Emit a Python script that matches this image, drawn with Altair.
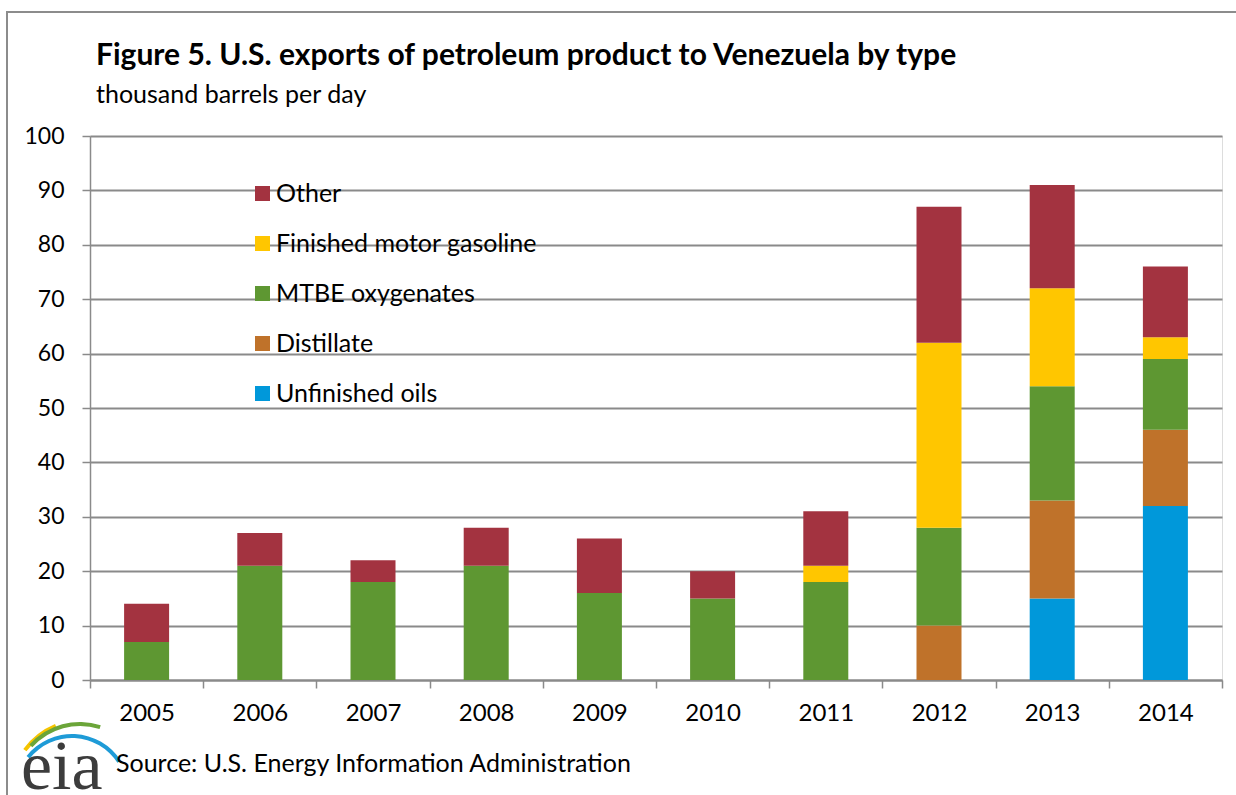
import altair as alt
import pandas as pd

years = ["2005", "2006", "2007", "2008", "2009", "2010", "2011", "2012", "2013", "2014"]
unfinished = [0, 0, 0, 0, 0, 0, 0, 0, 15, 32]
distillate = [0, 0, 0, 0, 0, 0, 0, 10, 18, 14]
mtbe = [7, 21, 18, 21, 16, 15, 18, 18, 21, 13]
gasoline = [0, 0, 0, 0, 0, 0, 3, 34, 18, 4]
other = [7, 6, 4, 7, 10, 5, 10, 25, 19, 13]

series_names = ["Unfinished oils", "Distillate", "MTBE oxygenates", "Finished motor gasoline", "Other"]
series_vals = [unfinished, distillate, mtbe, gasoline, other]
colors = ["#0098DA", "#BF722A", "#5E9732", "#FFC600", "#A33340"]

title_text = "Figure 5. U.S. exports of petroleum product to Venezuela by type"
subtitle_text = "thousand barrels per day"
source_text = "Source: U.S. Energy Information Administration"

rows = []
for k, (name, vals) in enumerate(zip(series_names, series_vals)):
    for y, v in zip(years, vals):
        rows.append({"year": y, "type": name, "value": v, "order": k})
df = pd.DataFrame(rows)

FONT = "Lato"
GRID = "#8A8A8A"

bars = alt.Chart(df).mark_bar(size=45).encode(
    x=alt.X("year:N", title=None, sort=years,
            scale=alt.Scale(paddingInner=0, paddingOuter=0),
            axis=alt.Axis(labelAngle=0, tickBand="extent", tickSize=8, tickColor=GRID,
                          tickWidth=1.5, domainColor=GRID, domainWidth=2,
                          labelFontSize=24, labelFont=FONT, labelColor="#000000",
                          labelPadding=13, grid=False)),
    y=alt.Y("value:Q", title=None, stack="zero",
            scale=alt.Scale(domain=[0, 100], nice=False),
            axis=alt.Axis(values=list(range(0, 101, 10)), tickSize=8, tickColor=GRID,
                          tickWidth=1.5, domainColor=GRID, domainWidth=1.5,
                          gridColor=GRID, gridWidth=2,
                          labelFontSize=23, labelFont=FONT, labelColor="#000000",
                          labelPadding=18)),
    color=alt.Color("type:N",
                    scale=alt.Scale(domain=series_names[::-1], range=colors[::-1]),
                    legend=alt.Legend(title=None, orient="none", legendX=160, legendY=45,
                                      symbolType="square", symbolSize=225,
                                      symbolStrokeWidth=0, symbolOpacity=1,
                                      labelFontSize=25, labelFont=FONT, labelColor="#000000",
                                      labelOffset=1, rowPadding=24, labelLimit=400)),
    order=alt.Order("order:Q", sort="ascending"),
)

texts_df = pd.DataFrame({
    "t": [title_text, subtitle_text, source_text],
    "px": [6, 6, 26],
    "py": [-71, -33, 636],
    "fs": [30, 25, 25],
    "fw": ["bold", "normal", "normal"],
})
def txt(i):
    r = texts_df.iloc[i]
    return alt.Chart(texts_df.iloc[[i]]).mark_text(
        align="left", baseline="alphabetic", fontSize=int(r["fs"]), font=FONT,
        fontWeight=r["fw"], color="#000000").encode(
        text="t:N", x=alt.value(int(r["px"])), y=alt.value(int(r["py"])))

title = txt(0)
subtitle = txt(1)
source = txt(2)

logo_df = pd.DataFrame({"t": ["eia"]})
logo = alt.Chart(logo_df).mark_text(align="left", baseline="alphabetic", fontSize=70,
                                    font="Liberation Serif", color="#3C3C3C").encode(
    text="t:N", x=alt.value(-69), y=alt.value(653))

arcs_df = pd.DataFrame({
    "name": ["yellow", "green", "blue"],
    "cx": [-5, -10, -18],
    "cy": [659, 654, 656],
    "t1": [-0.93, -0.84, -0.9],
    "t2": [-0.40, 0.31, 1.0],
    "r1": [73, 64, 54],
    "r2": [77, 68, 58],
    "c": ["#F5C400", "#6BA539", "#1E9BD7"],
})
arcs = alt.Chart(arcs_df).mark_arc(clip=False).encode(
    theta=alt.Theta("t1:Q", scale=None), theta2="t2:Q",
    radius=alt.Radius("r1:Q", scale=None), radius2="r2:Q",
    color=alt.Color("c:N", scale=None, legend=None),
    x=alt.X("cx:Q", scale=None), y=alt.Y("cy:Q", scale=None),
)

border_df = pd.DataFrame({"t": ["frame"]})
border = alt.Chart(border_df).mark_rect(fill=None, stroke="#8C8C8C", strokeWidth=2, clip=False).encode(
    x=alt.value(-83), y=alt.value(-124), x2=alt.value(1160), y2=alt.value(680))

chart = alt.layer(border, bars, arcs, logo, source, title, subtitle).properties(
    width=1132, height=544,
    autosize=alt.AutoSizeParams(type="none"),
    padding={"left": 90, "top": 136, "right": 14, "bottom": 115},
).configure_view(stroke=None).configure(background="white")

chart.save("out.html", embed_options={"renderer": "svg", "actions": False})
